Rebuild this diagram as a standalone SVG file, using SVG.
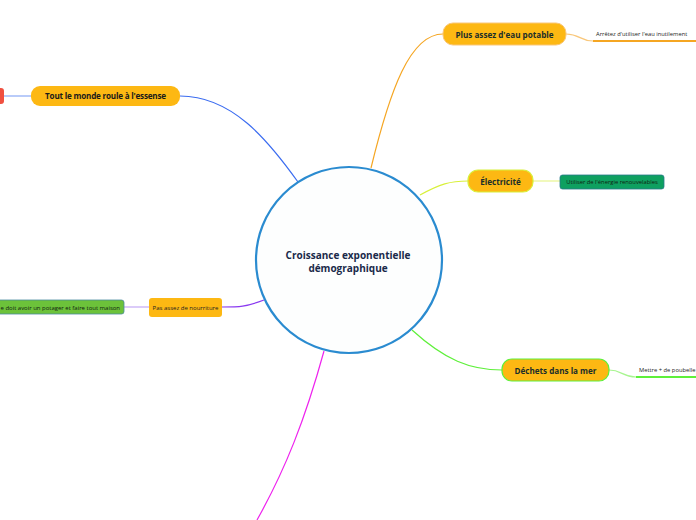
<svg xmlns="http://www.w3.org/2000/svg" width="696" height="520" viewBox="0 0 696 520">
<style>
.main{fill:#FDB813;}
.t{font-family:"Open Sans","Noto Sans",sans-serif;font-weight:bold;font-size:8.1px;fill:#1a2e2a;text-anchor:middle;}
.s{font-family:"Open Sans","Noto Sans",sans-serif;font-size:5.8px;fill:#222;}
.c{fill:none;stroke-width:1.2;}
</style>
<rect width="696" height="520" fill="#ffffff"/>
<g id="connectors">
<path class="c" d="M180,96 C232,96 268,140 298,182" stroke="#3b6cf0"/>
<path class="c" d="M371,168 C390,90 410,34 443,34" stroke="#f5a623"/>
<path class="c" d="M420,195 C440,184 450,181 468,181" stroke="#d8f03a"/>
<path class="c" d="M412,330 C445,360 470,370 502,370" stroke="#5ef03a"/>
<path class="c" d="M264,300 C245,307 240,307 222,307" stroke="#8a3af0"/>
<path class="c" d="M324,351 C305,420 285,470 257,520" stroke="#ee22ee"/>
<path class="c" d="M4,96 L31,96" stroke="#8aa8f5"/>
<path class="c" d="M566,34 C580,34 580,41 593,41" stroke="#f9c77a"/>
<path d="M593,41 L696,41" stroke="#f5a623" stroke-width="2" fill="none"/>
<path class="c" d="M533,181 L560,181" stroke="#e8f590"/>
<path class="c" d="M149,307 L124,307" stroke="#c4a8f5"/>
<path class="c" d="M609,370 C622,370 622,377 636,377" stroke="#a8f590"/>
<path d="M636,377 L696,377" stroke="#5ef03a" stroke-width="2" fill="none"/>
</g>
<g id="center">
<circle cx="349" cy="260" r="93" fill="#fdfefe" stroke="#2a8bd0" stroke-width="2.2"/>
<text class="t" x="348" y="259" style="font-size:10px;fill:#1a2a4a">Croissance exponentielle</text>
<text class="t" x="348" y="272" style="font-size:10px;fill:#1a2a4a">démographique</text>
</g>
<g id="n-essense">
<rect class="main" x="31" y="86" width="149" height="20" rx="9"/>
<text class="t" x="105.5" y="99" style="fill:#1a1a1a;letter-spacing:-0.2px">Tout le monde roule à l'essense</text>
</g>
<g id="n-red">
<rect x="-6" y="88" width="10" height="16" rx="3" fill="#f05040"/>
</g>
<g id="n-eau">
<rect class="main" x="443" y="23" width="123" height="22" rx="10" stroke="#f9c77a" stroke-width="1"/>
<text class="t" x="504.5" y="37.5">Plus assez d'eau potable</text>
</g>
<g id="n-eau-sub">
<text class="s" x="596" y="35.5">Arrêtez d'utiliser l'eau inutilement</text>
</g>
<g id="n-elec">
<rect class="main" x="468" y="170" width="65" height="22" rx="10" stroke="#d8f03a" stroke-width="1.2"/>
<text class="t" x="500.5" y="184.5">Électricité</text>
</g>
<g id="n-elec-sub">
<rect x="560" y="175" width="104" height="14" rx="2.5" fill="#0ea060" stroke="#2a7a8a" stroke-width="0.8"/>
<text class="s" x="612" y="184" text-anchor="middle" style="fill:#102010">Utiliser de l'énergie renouvelables</text>
</g>
<g id="n-nourriture">
<rect class="main" x="149" y="298" width="73" height="19" rx="3"/>
<text class="s" x="185.5" y="309.5" text-anchor="middle" style="font-size:6px">Pas assez de nourriture</text>
</g>
<g id="n-potager">
<rect x="-10" y="300" width="134" height="14" rx="2.5" fill="#6cc23a" stroke="#4a8aa0" stroke-width="0.8"/>
<text class="s" x="0.5" y="309.5" textLength="119.5" lengthAdjust="spacingAndGlyphs" style="fill:#102010;font-size:6.1px">e doit avoir un potager et faire tout maison</text>
</g>
<g id="n-dechets">
<rect class="main" x="502" y="359" width="107" height="22" rx="10" stroke="#5ef03a" stroke-width="1.2"/>
<text class="t" x="555.5" y="373.5">Déchets dans la mer</text>
</g>
<g id="n-dechets-sub">
<text class="s" x="639" y="371.5">Mettre + de poubelle</text>
</g>
</svg>
